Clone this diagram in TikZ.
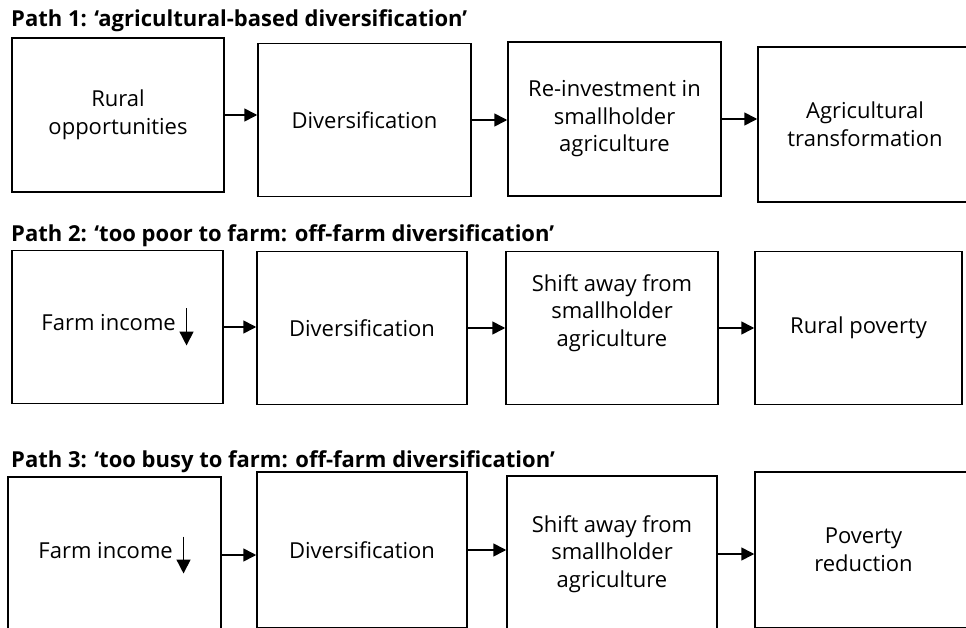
\documentclass[tikz,border=0pt]{standalone}
\usepackage{fontspec}
\setmainfont{Open Sans}
\usepackage{tikz}
\usetikzlibrary{arrows.meta, positioning}
\tikzset{
	box/.style       = {shape=rectangle, draw, line width=1.5pt, align=center,
		minimum width=212pt, minimum height=153pt, inner sep=0pt,
		font=\fontsize{22}{27.5}\selectfont},
	pathtitle/.style = {anchor=base west, inner sep=0pt,
		font=\fontsize{22}{24}\selectfont\bfseries},
	flow/.style      = {-{Triangle[length=13pt, width=13pt]}, line width=1.6pt},
}
\newcommand{\incomedown}{\,\tikz[baseline=0pt]\draw[line width=1.5pt,
	-{Triangle[length=14pt, width=14pt]}] (0pt,22pt) -- (0pt,-15pt);}

\begin{document}
\begin{tikzpicture}[x=1pt, y=-1pt]
	\useasboundingbox (0,0) rectangle (966,628);
	% path 1
	\node[pathtitle] (title1) at (11,27) {Path 1: `agricultural-based diversification'};
	\node[box, minimum height=154pt] (rural1) at (118,115) {Rural\\opportunities};
	\node[box, minimum width=213pt] (div1) at (364.5,120) {Diversification};
	\node[box, minimum width=213pt, minimum height=154pt] (reinv1) at (614.5,119)
		{Re-investment in\\smallholder\\agriculture};
	\node[box, minimum width=214pt, minimum height=155pt] (agtrans1) at (865,124.5)
		{Agricultural\\transformation};
	
	% path 2
	\node[pathtitle] (title2) at (11,242) {Path 2: `too poor to farm: off-farm diversification'};
	\node[box, minimum width=211pt] (inc2) at (117.5,327) {Farm income\incomedown};
	\node[box, minimum width=210pt] (div2) at (362,328) {Diversification};
	\node[box] (shift2) at (612,328) {Shift away from\\smallholder\\agriculture\\[8pt]\mbox{}};
	\node[box, minimum width=207pt] (pov2) at (858.5,328) {Rural poverty};
	
	% path 3
	\node[pathtitle] (title3) at (11,467) {Path 3: `too busy to farm: off-farm diversification'};
	\node[box, minimum width=213pt, minimum height=156pt] (inc3) at (114.5,555) {Farm income\incomedown};
	\node[box, minimum width=210pt, minimum height=156pt] (div3) at (362,550) {Diversification};
	\node[box, minimum width=210pt, minimum height=156pt] (shift3) at (612,554)
		{Shift away from\\smallholder\\agriculture};
	\node[box, minimum width=217pt, minimum height=156pt] (povred3) at (863.5,550)
		{Poverty\\reduction};
	
	\foreach \a/\b in {rural1/div1, div1/reinv1, reinv1/agtrans1,
		inc2/div2, div2/shift2, shift2/pov2,
		inc3/div3, div3/shift3, shift3/povred3}
		\draw[flow] (\a.east) -- (\a.east -| \b.west);
\end{tikzpicture}
\end{document}
